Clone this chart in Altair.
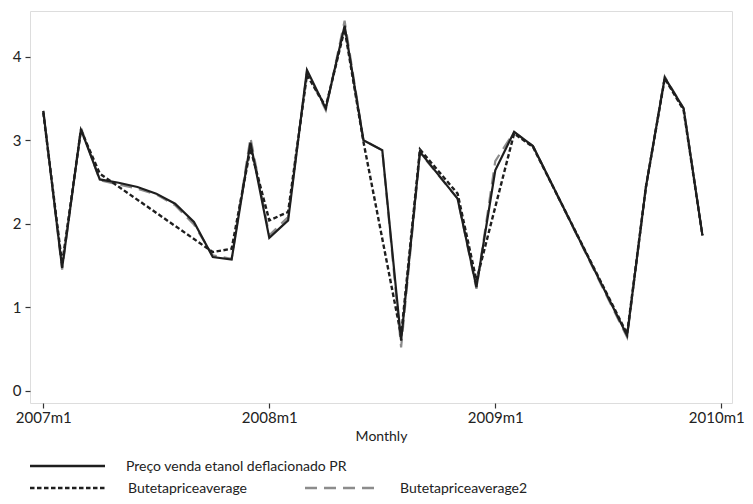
import altair as alt
import pandas as pd

# month index: 0 = 2007m1
months = list(range(36))
preco = [3.35, 1.47, 3.13, 2.53, 2.49, 2.44, 2.36, 2.24, 2.02, 1.60, 1.57, 2.97,
         1.83, 2.04, 3.84, 3.38, 4.37, 3.00, 2.88, 0.60, 2.86, None, 2.30, 1.24,
         2.64, 3.10, 2.93, None, None, None, None, 0.66, 2.44, 3.75, 3.38, 1.86]
avg1 = [3.33, 1.52, 3.12, 2.60, None, None, None, None, None, 1.66, 1.70, 2.90,
        2.04, 2.14, 3.78, 3.40, 4.33, 2.98, None, 0.66, 2.89, None, 2.36, 1.32,
        None, 3.08, 2.92, None, None, None, None, 0.68, 2.44, 3.74, 3.36, 1.86]
avg2 = [3.35, 1.45, 3.15, 2.52, 2.47, 2.42, 2.35, 2.22, 1.99, 1.62, 1.58, 3.03,
        1.86, 2.08, 3.82, 3.36, 4.43, 3.00, 2.88, 0.52, 2.85, None, 2.30, 1.22,
        2.75, 3.10, 2.93, None, None, None, None, 0.64, 2.44, 3.76, 3.38, 1.86]
names = ["Preço venda etanol deflacionado PR", "Butetapriceaverage", "Butetapriceaverage2"]
x_ticks = [0, 12, 24, 36]
y_ticks = [0, 1, 2, 3, 4]

FONT = "Lato"


def frame(vals, name):
    rows = [{"m": m, "v": v, "s": name} for m, v in zip(months, vals) if v is not None]
    return pd.DataFrame(rows)


xs = alt.Scale(domain=[-0.706, 36.57], nice=False, zero=False)
ys = alt.Scale(domain=[-0.147, 4.547], nice=False, zero=False)

xenc = alt.X("m:Q", scale=xs, title="Monthly",
             axis=alt.Axis(values=x_ticks, grid=False, domain=False, tickSize=5,
                           tickColor="#333", tickWidth=1.2,
                           labelExpr="toString(2007 + floor(datum.value/12)) + 'm1'",
                           labelFont=FONT, labelFontSize=15, labelColor="#222",
                           labelPadding=2, titleFont=FONT, titleFontSize=14,
                           titleFontWeight="normal", titleColor="#222",
                           titlePadding=4, labelFlush=False,
                           labelOffset={"condition": {"test": "datum.value == 36", "value": -5},
                                        "value": 0}))
yenc = alt.Y("v:Q", scale=ys, title=None,
             axis=alt.Axis(values=y_ticks, grid=False, domain=False, tickSize=5,
                           tickColor="#333", tickWidth=1.2, labelFont=FONT,
                           labelFontSize=15, labelColor="#222", labelPadding=4,
                           format="d"))

gray = alt.Chart(frame(avg2, names[2])).mark_line(
    color="#8c8c8c", strokeWidth=2.2, strokeDash=[12, 7]).encode(x=xenc, y=yenc, order="m:Q")
solid = alt.Chart(frame(preco, names[0])).mark_line(
    color="#1e1e1e", strokeWidth=2.2).encode(x=xenc, y=yenc, order="m:Q")
dotted = alt.Chart(frame(avg1, names[1])).mark_line(
    color="#1e1e1e", strokeWidth=2.4, strokeDash=[4.5, 2.5]).encode(x=xenc, y=yenc, order="m:Q")

# legend (drawn below the plot area)
leg_df = [pd.DataFrame({"label": [n]}) for n in names]
row1, row2 = 455, 477


def leg_line(df, x1, x2, y, **kw):
    return alt.Chart(df).mark_rule(**kw).encode(
        x=alt.value(x1), x2=alt.value(x2), y=alt.value(y))


def leg_text(df, x, y):
    return alt.Chart(df).mark_text(align="left", baseline="alphabetic", font=FONT,
                                   fontSize=14, color="#222").encode(
        x=alt.value(x), y=alt.value(y + 5), text="label:N")


legend = [
    leg_line(leg_df[0], 0, 75, row1, color="#1e1e1e", strokeWidth=2.6),
    leg_text(leg_df[0], 96, row1),
    leg_line(leg_df[1], 0, 75, row2, color="#1e1e1e", strokeWidth=2.6, strokeDash=[4.5, 2.5]),
    leg_text(leg_df[1], 98, row2),
    leg_line(leg_df[2], 275, 350, row2, color="#8c8c8c", strokeWidth=2.6, strokeDash=[12, 7]),
    leg_text(leg_df[2], 370, row2),
]

chart = alt.layer(gray, solid, dotted, *legend).properties(
    width=702, height=392,
    autosize=alt.AutoSizeParams(type="none"),
    padding={"left": 22, "top": 3, "right": 13, "bottom": 93},
).configure_view(stroke="#444", strokeWidth=1.5).configure(background="white")

chart.save("out.html", embed_options={"renderer": "svg", "actions": False})
